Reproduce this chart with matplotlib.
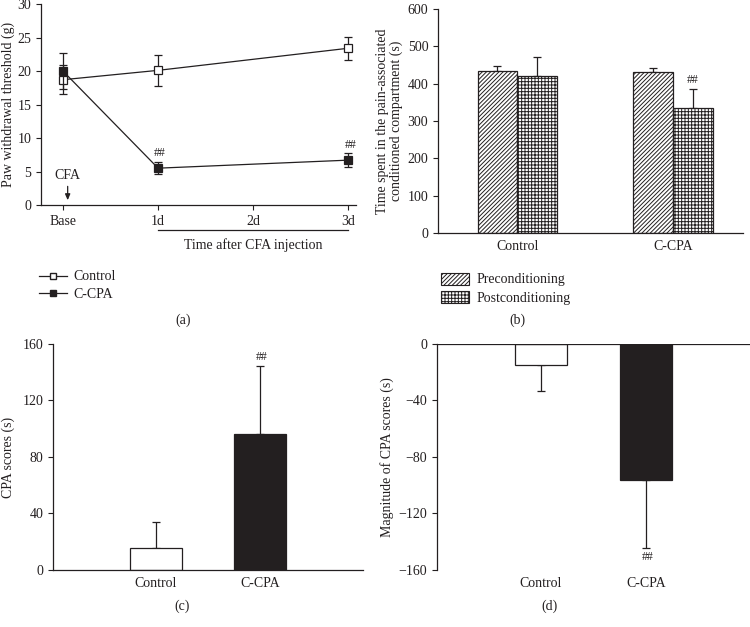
import matplotlib
matplotlib.use("Agg")
import matplotlib.pyplot as plt
from matplotlib.lines import Line2D
from matplotlib.patches import Patch
import matplotlib.transforms as mtransforms
import numpy as np

plt.rcParams['font.family'] = ['Liberation Serif', 'DejaVu Serif']
plt.rcParams['font.size'] = 10
plt.rcParams['hatch.linewidth'] = 0.7
TXT = '#231f20'
plt.rcParams['text.color'] = TXT
plt.rcParams['axes.labelcolor'] = TXT
plt.rcParams['xtick.color'] = TXT
plt.rcParams['ytick.color'] = TXT
plt.rcParams['axes.edgecolor'] = TXT

# ---- Data ----
# (a)
time_labels = ['Base', '1d', '2d', '3d']
time_x = [0, 1, 3]
control_pwt = [18.7, 20.1, 23.4]
control_pwt_err = [2.2, 2.3, 1.7]
ccpa_pwt = [20.0, 5.5, 6.7]
ccpa_pwt_err = [2.7, 0.9, 1.0]
# (b)
groups = ['Control', 'C-CPA']
pre_time = [434, 432]
pre_time_err = [14, 11]
post_time = [420, 336]
post_time_err = [52, 49]
# (c)
cpa_scores = [15.3, 96.3]
cpa_scores_err = [18.4, 48.4]
# (d)
mag_scores = [-14.6, -96.3]
mag_scores_err = [18.4, 47.9]

FS = 10
fig = plt.figure(figsize=(7.5, 6.27), dpi=100)

def style(ax):
    for s in ['top', 'right']:
        ax.spines[s].set_visible(False)
    ax.spines['left'].set_linewidth(0.9)
    ax.spines['bottom'].set_linewidth(0.9)
    ax.tick_params(direction='out', length=3.5, width=0.8, labelsize=FS)

# ---------- (a) ----------
axA = fig.add_axes([0.0547, 0.673, 0.42, 0.3206])
style(axA)
axA.errorbar(time_x, control_pwt, yerr=control_pwt_err, color=TXT, lw=0.9,
             marker='s', ms=6, mfc='white', mec=TXT, mew=0.9, capsize=3,
             elinewidth=0.9, capthick=0.9, zorder=3)
axA.errorbar(time_x, ccpa_pwt, yerr=ccpa_pwt_err, color=TXT, lw=0.9,
             marker='s', ms=6, mfc=TXT, mec=TXT, mew=0.9, capsize=3,
             elinewidth=0.9, capthick=0.9, zorder=4)
axA.set_xlim(-0.23, 3.08)
axA.set_ylim(0, 30)
axA.set_yticks(np.arange(0, 31, 5))
axA.set_xticks(range(len(time_labels)))
axA.set_xticklabels(time_labels)
axA.set_ylabel('Paw withdrawal threshold (g)', labelpad=2)
for xi, yi, ei in zip(time_x[1:], ccpa_pwt[1:], ccpa_pwt_err[1:]):
    axA.text(xi + 0.02, yi + ei + 0.4, '##', ha='center', va='bottom', fontsize=8.5)
axA.annotate('', xy=(0.05, 0.3), xytext=(0.05, 3.2),
             arrowprops=dict(arrowstyle='-|>,head_width=0.15,head_length=0.35', color=TXT, lw=0.9))
axA.text(0.05, 3.5, 'CFA', ha='center', va='bottom', fontsize=FS)
trA = mtransforms.blended_transform_factory(axA.transData, axA.transAxes)
axA.plot([1, 3], [-0.124, -0.124], color=TXT, lw=0.9, transform=trA, clip_on=False)
axA.text(2, -0.2, 'Time after CFA injection', ha='center', va='center', transform=trA, fontsize=FS)
handlesA = [Line2D([0], [0], color=TXT, lw=0.9, marker='s', ms=5, mfc='white', mec=TXT),
            Line2D([0], [0], color=TXT, lw=0.9, marker='s', ms=5, mfc=TXT, mec=TXT)]
fig.legend(handlesA, ['Control', 'C-CPA'], loc='upper left',
           bbox_to_anchor=(0.035, 1 - 258 / 627), frameon=False, fontsize=FS,
           handlelength=2.0, handletextpad=0.5, labelspacing=0.3)
fig.text(183 / 750, 1 - 320 / 627, '(a)', ha='center', va='center', fontsize=FS)

# ---------- (b) ----------
axB = fig.add_axes([0.584, 0.6284, 0.4067, 0.3572])
style(axB)
xb = np.arange(len(groups))
w = 0.256
axB.bar(xb - w / 2, pre_time, w, color='white', edgecolor=TXT, hatch='////////', lw=0.9, zorder=2)
axB.bar(xb + w / 2, post_time, w, color='white', edgecolor=TXT, hatch='+++++', lw=0.9, zorder=2)
axB.errorbar(xb - w / 2, pre_time, yerr=[[0, 0], pre_time_err], fmt='none', ecolor=TXT,
             elinewidth=0.9, capsize=3, capthick=0.9, zorder=1)
axB.errorbar(xb + w / 2, post_time, yerr=[[0, 0], post_time_err], fmt='none', ecolor=TXT,
             elinewidth=0.9, capsize=3, capthick=0.9, zorder=1)
axB.text(1 + w / 2, post_time[1] + post_time_err[1] + 8, '##', ha='center', va='bottom', fontsize=8.5)
axB.set_xlim(-0.51, 1.45)
axB.set_ylim(0, 600)
axB.set_yticks(np.arange(0, 601, 100))
axB.set_xticks(xb)
axB.set_xticklabels(groups)
axB.tick_params(axis='x', length=0, pad=5)
axB.set_ylabel('Time spent in the pain-associated\nconditioned compartment (s)', labelpad=3,
               linespacing=1.05)
handlesB = [Patch(facecolor='white', edgecolor=TXT, hatch='////////', lw=0.8),
            Patch(facecolor='white', edgecolor=TXT, hatch='+++++', lw=0.8)]
fig.legend(handlesB, ['Preconditioning', 'Postconditioning'], loc='upper left',
           bbox_to_anchor=(0.571, 1 - 260 / 627), frameon=False, fontsize=FS,
           handlelength=2.0, handleheight=1.0, handletextpad=0.55, labelspacing=0.3)
fig.text(517 / 750, 1 - 320 / 627, '(b)', ha='center', va='center', fontsize=FS)

# ---------- (c) ----------
axC = fig.add_axes([0.0707, 0.0909, 0.4133, 0.3605])
style(axC)
xc = np.arange(len(groups))
axC.bar(xc, cpa_scores, 0.5, color=['white', TXT], edgecolor=TXT, lw=0.9, zorder=2)
axC.errorbar(xc, cpa_scores, yerr=[[0, 0], cpa_scores_err], fmt='none', ecolor=TXT,
             elinewidth=0.9, capsize=3, capthick=0.9, zorder=1)
axC.text(1 + 0.02, cpa_scores[1] + cpa_scores_err[1] + 2, '##', ha='center', va='bottom', fontsize=8.5)
axC.set_xlim(-0.99, 1.99)
axC.set_ylim(0, 160)
axC.set_yticks(np.arange(0, 161, 40))
axC.set_xticks(xc)
axC.set_xticklabels(groups)
axC.tick_params(axis='x', length=0, pad=5)
axC.set_ylabel('CPA scores (s)', labelpad=5)
fig.text(182 / 750, 1 - 606 / 627, '(c)', ha='center', va='center', fontsize=FS)

# ---------- (d) ----------
axD = fig.add_axes([0.5827, 0.0909, 0.4173, 0.3605])
style(axD)
axD.spines['bottom'].set_visible(False)
axD.axhline(0, color=TXT, lw=0.9, zorder=3)
xd = np.arange(len(groups))
axD.bar(xd, mag_scores, 0.5, color=['white', TXT], edgecolor=TXT, lw=0.9, zorder=2)
axD.errorbar(xd, mag_scores, yerr=[mag_scores_err, [0, 0]], fmt='none', ecolor=TXT,
             elinewidth=0.9, capsize=3, capthick=0.9, zorder=1)
axD.text(1 + 0.02, mag_scores[1] - mag_scores_err[1] - 2, '##', ha='center', va='top', fontsize=8.5)
axD.set_xlim(-0.99, 1.99)
axD.set_ylim(-160, 0)
axD.set_yticks(np.arange(-160, 1, 40))
axD.set_yticklabels(['\u2212160', '\u2212120', '\u221280', '\u221240', '0'])
axD.set_xticks(xd)
axD.set_xticklabels(groups)
axD.tick_params(axis='x', length=0, pad=5)
axD.set_ylabel('Magnitude of CPA scores (s)', labelpad=3)
fig.text(550 / 750, 1 - 606 / 627, '(d)', ha='center', va='center', fontsize=FS)

fig.savefig('out.png', dpi=100)
